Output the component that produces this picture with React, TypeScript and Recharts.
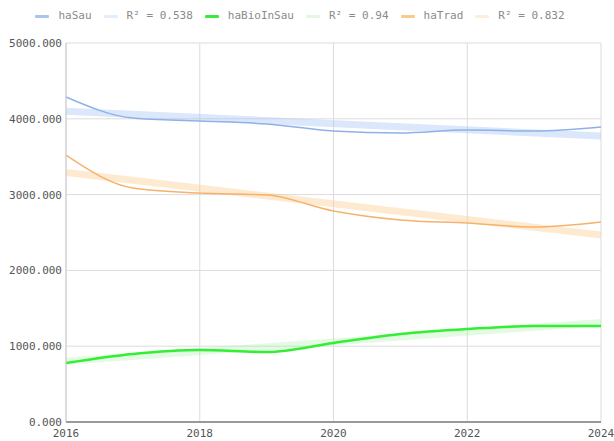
import React from "react";
import { LineChart, Line, XAxis, YAxis, CartesianGrid, Legend } from "recharts";

const years = [2016, 2017, 2018, 2019, 2020, 2021, 2022, 2023, 2024];
const haSau = [4288, 4010, 3971, 3931, 3839, 3813, 3852, 3839, 3892];
const haBioInSau = [778, 897, 950, 923, 1042, 1161, 1227, 1266, 1266];
const haTrad = [3522, 3087, 3021, 2995, 2784, 2665, 2625, 2573, 2639];

const trendYears = [2016, 2024];
const haSauTrend = [4101, 3773];
const haBioTrend = [800, 1313];
const haTradTrend = [3292, 2466];

const xTicks = [2016, 2018, 2020, 2022, 2024];
const yTicks = [0, 1000, 2000, 3000, 4000, 5000];

const data = years.map((y, i) => ({
  year: y,
  haSau: haSau[i],
  haBioInSau: haBioInSau[i],
  haTrad: haTrad[i],
}));

const mk = (vals: number[]) => trendYears.map((y, i) => ({ year: y, v: vals[i] }));

const FONT = "'DejaVu Sans Mono', monospace";

const legendItems = [
  { label: "haSau", color: "#a9c4ee", opacity: 1 },
  { label: "R² = 0.538", color: "#dbe6f8", opacity: 0.7 },
  { label: "haBioInSau", color: "#3aea3a", opacity: 1 },
  { label: "R² = 0.94", color: "#d3f7d3", opacity: 0.7 },
  { label: "haTrad", color: "#f9c98f", opacity: 1 },
  { label: "R² = 0.832", color: "#fbe7cc", opacity: 0.7 },
];

const renderLegend = () => (
  <div
    style={{
      display: "flex",
      justifyContent: "center",
      alignItems: "center",
      fontFamily: FONT,
      fontSize: 11,
      lineHeight: "14px",
      color: "#8a8a8a",
    }}
  >
    {legendItems.map((it) => (
      <div key={it.label} style={{ display: "flex", alignItems: "center", marginRight: 12 }}>
        <div
          style={{
            width: 14,
            height: 3,
            background: it.color,
            opacity: it.opacity,
            marginRight: 9,
            borderRadius: 1,
          }}
        />
        <span>{it.label}</span>
      </div>
    ))}
  </div>
);

export default function App() {
  return (
    <div style={{ position: "absolute", left: 8, top: 8, width: 606, height: 433, background: "#fff" }}>
      <LineChart
        width={606}
        height={433}
        data={data}
        margin={{ top: 21, right: 13, bottom: 0, left: 0 }}
        style={{ overflow: "visible" }}
      >
        <CartesianGrid stroke="#dcdcdc" strokeWidth={1} />
        <XAxis
          dataKey="year"
          type="number"
          domain={[2016, 2024]}
          ticks={xTicks}
          allowDuplicatedCategory={false}
          interval={0}
          tick={{ fill: "#555", fontSize: 11, fontFamily: FONT }}
          tickLine={false}
          tickSize={0}
          axisLine={{ stroke: "#999", strokeWidth: 2 }}
          height={19}
          tickMargin={7}
        />
        <YAxis
          domain={[0, 5000]}
          ticks={yTicks}
          tickFormatter={(v: number) => v.toFixed(3)}
          tick={{ fill: "#555", fontSize: 11, fontFamily: FONT }}
          tickLine={false}
          tickSize={0}
          axisLine={{ stroke: "#ccc" }}
          width={58}
          tickMargin={4}
        />
        <Legend
          verticalAlign="top"
          content={renderLegend}
          wrapperStyle={{ top: 1, left: 0, width: 596 }}
        />
        <Line
          data={mk(haSauTrend)}
          dataKey="v"
          stroke="#a4c2f4"
          strokeOpacity={0.4}
          strokeWidth={7}
          dot={false}
          isAnimationActive={false}
          legendType="none"
        />
        <Line
          data={mk(haBioTrend)}
          dataKey="v"
          stroke="#8ef08e"
          strokeOpacity={0.25}
          strokeWidth={7}
          dot={false}
          isAnimationActive={false}
          legendType="none"
        />
        <Line
          data={mk(haTradTrend)}
          dataKey="v"
          stroke="#f9cb8a"
          strokeOpacity={0.4}
          strokeWidth={7}
          dot={false}
          isAnimationActive={false}
          legendType="none"
        />
        <Line
          type="monotone"
          dataKey="haSau"
          stroke="#8fb1e8"
          strokeWidth={1.5}
          dot={false}
          isAnimationActive={false}
        />
        <Line
          type="monotone"
          dataKey="haBioInSau"
          stroke="#33ee33"
          strokeWidth={2.5}
          dot={false}
          isAnimationActive={false}
        />
        <Line
          type="monotone"
          dataKey="haTrad"
          stroke="#f6b26b"
          strokeWidth={1.5}
          dot={false}
          isAnimationActive={false}
        />
      </LineChart>
    </div>
  );
}
